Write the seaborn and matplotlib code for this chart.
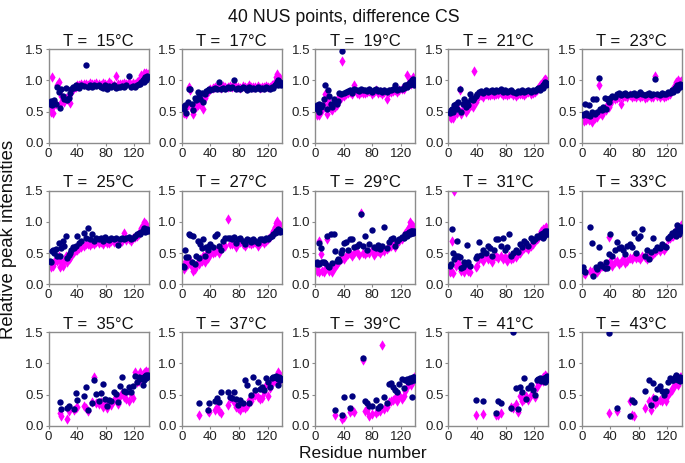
import numpy as np
import pandas as pd
import matplotlib
matplotlib.use("Agg")
import matplotlib.pyplot as plt
import seaborn as sns

nan = np.nan

residues = [2, 3, 5, 6, 8, 10, 12, 14, 16, 18,
            20, 22, 24, 26, 28, 30, 32, 34, 36, 38,
            40, 43, 46, 49, 52, 55, 58, 61, 64, 67,
            70, 73, 76, 79, 82, 85, 88, 91, 94, 97,
            100, 103, 106, 109, 112, 115, 118, 121, 124, 126,
            128, 130, 132, 133, 134, 135, 136, 137, 138, 139]

temperatures = [15, 17, 19, 21, 23, 25, 27, 29, 31, 33, 35, 37, 39, 41, 43]

# navy circles
blue_15 = [0.62, 0.67, 0.60, 0.66, 0.68, 0.63, 0.90, 0.82, 0.56, 0.86,
           0.75, 0.70, 0.88, 0.68, 0.72, 0.80, 0.86, 0.90, 0.88, 0.92,
           0.90, 0.88, 0.92, 0.91, 1.25, 0.90, 0.92, 0.89, 0.93, 0.91,
           0.92, 0.90, 0.88, 0.93, 0.87, 0.91, 0.90, 0.92, 0.88, 0.90,
           0.89, 0.91, 0.90, 0.92, 1.07, 0.90, 0.91, 0.89, 0.92, 0.94,
           0.95, 0.97, 1.00, 0.98, 1.02, 1.05, 1.00, 1.04, 1.07, 1.05]
pink_15 = [0.55, 0.50, 1.05, 0.48, 0.60, 0.62, 0.93, 0.97, 0.63, 0.75,
           0.70, 0.66, 0.72, 0.70, 0.75, 0.64, 0.82, 0.86, 0.88, 0.90,
           0.92, 0.93, 0.95, 0.94, 0.95, 0.93, 0.96, 0.95, 0.94, 0.96,
           0.95, 0.93, 0.96, 0.94, 0.92, 0.97, 0.94, 0.93, 1.07, 0.95,
           0.95, 0.94, 0.96, 0.95, 0.97, 0.93, 0.96, 0.95, 0.97, 1.00,
           1.02, 1.08, 1.05, 1.12, 1.03, 1.10, 1.06, 1.12, 1.08, 1.10]

blue_17 = [0.58, 0.55, 0.60, 0.48, 0.65, 0.87, 0.86, 0.62, 0.53, 0.72,
           0.68, 0.82, 0.75, 0.70, 0.80, 0.65, 0.78, 0.83, 0.85, 0.86,
           0.85, 0.86, 0.88, 0.87, 0.97, 0.86, 0.88, 0.87, 0.89, 0.88,
           0.89, 1.00, 0.87, 0.88, 0.86, 0.90, 0.88, 0.85, 0.89, 0.87,
           0.88, 0.87, 0.89, 0.86, 0.88, 0.87, 0.89, 0.88, 0.87, 0.90,
           0.88, 0.92, 0.95, 0.98, 0.93, 1.00, 0.96, 0.98, 0.95, 0.93]
pink_17 = [0.50, 0.48, 0.55, 0.47, 0.60, 0.90, 0.85, 0.55, 0.47, 0.62,
           0.58, 0.60, 0.70, 0.62, 0.65, 0.55, 0.72, 0.78, 0.82, 0.85,
           0.87, 0.88, 0.90, 0.89, 0.90, 0.88, 0.91, 0.89, 0.90, 0.91,
           0.90, 0.92, 0.89, 0.90, 0.88, 0.91, 0.90, 0.88, 0.92, 0.90,
           0.90, 0.89, 0.91, 0.88, 0.90, 0.89, 0.91, 0.90, 0.89, 0.92,
           0.92, 0.98, 1.05, 1.10, 0.96, 1.02, 1.00, 1.04, 0.98, 0.97]

blue_19 = [0.60, 0.55, 0.62, 0.50, 0.58, 0.60, 0.70, 0.93, 0.55, 0.85,
           0.75, 0.62, 0.58, 0.70, 0.65, 0.63, 0.67, 0.80, 0.78, 1.48,
           0.80, 0.82, 0.83, 0.85, 0.80, 0.87, 0.84, 0.83, 0.86, 0.84,
           0.85, 0.83, 0.86, 0.82, 0.84, 0.86, 0.83, 0.85, 0.82, 0.84,
           0.82, 0.85, 0.84, 0.86, 0.93, 0.85, 0.87, 0.86, 0.88, 0.92,
           0.90, 0.95, 0.92, 0.98, 0.95, 1.00, 0.97, 1.02, 0.96, 0.93]
pink_19 = [0.50, 0.45, 0.48, 0.44, 0.55, 0.52, 0.62, 0.78, 0.47, 0.68,
           0.60, 0.55, 0.52, 0.62, 0.58, 0.60, 0.65, 0.75, 0.72, 1.32,
           0.75, 0.78, 0.80, 0.82, 0.78, 0.93, 0.80, 0.79, 0.82, 0.80,
           0.80, 0.81, 0.83, 0.79, 0.81, 0.84, 0.80, 0.82, 0.79, 0.81,
           0.70, 0.81, 0.82, 0.83, 0.84, 0.82, 0.85, 0.86, 0.87, 0.90,
           1.08, 0.93, 0.96, 1.00, 0.95, 1.03, 1.00, 1.05, 0.99, 0.96]

blue_21 = [0.48, 0.52, 0.55, 0.50, 0.60, 0.62, 0.55, 0.65, 0.87, 0.50,
           0.62, 0.70, 0.58, 0.65, 0.60, 0.78, 0.70, 0.68, 0.72, 0.75,
           0.78, 0.82, 0.83, 0.80, 0.84, 0.82, 0.83, 0.85, 0.82, 0.84,
           0.83, 0.86, 0.82, 0.84, 0.81, 0.83, 0.85, 0.82, 0.80, 0.83,
           0.82, 0.84, 0.81, 0.83, 0.85, 0.82, 0.84, 0.83, 0.86, 0.88,
           0.85, 0.90, 0.92, 0.88, 0.95, 0.97, 0.93, 0.96, 0.95, 0.94]
pink_21 = [0.42, 0.40, 0.43, 0.40, 0.45, 0.50, 0.48, 0.55, 0.85, 0.46,
           0.55, 0.60, 0.50, 0.57, 0.55, 0.62, 0.60, 0.58, 1.15, 0.65,
           0.72, 0.75, 0.76, 0.74, 0.78, 0.76, 0.77, 0.79, 0.76, 0.78,
           0.78, 0.80, 0.77, 0.79, 0.76, 0.78, 0.80, 0.77, 0.75, 0.78,
           0.78, 0.79, 0.77, 0.80, 0.81, 0.79, 0.80, 0.82, 0.84, 0.88,
           0.92, 0.95, 0.98, 0.96, 1.00, 1.02, 0.98, 1.00, 0.97, 0.96]

blue_23 = [0.45, 0.47, 0.62, 0.48, 0.45, 0.60, 0.43, 0.50, 0.70, 0.46,
           0.70, 0.50, 1.04, 0.55, 0.52, 0.58, 0.72, 0.55, 0.70, 0.65,
           0.72, 0.75, 0.74, 0.78, 0.80, 0.76, 0.78, 0.80, 0.77, 0.79,
           0.78, 0.80, 0.77, 0.79, 0.81, 0.78, 0.76, 0.79, 0.80, 0.77,
           0.78, 1.02, 0.79, 0.77, 0.80, 0.78, 0.79, 0.81, 0.80, 0.85,
           0.82, 0.88, 0.90, 0.85, 0.92, 0.88, 0.93, 0.90, 0.95, 0.92]
pink_23 = [0.38, 0.35, 0.40, 0.36, 0.42, 0.37, 0.38, 0.34, 0.45, 0.40,
           0.45, 0.42, 0.93, 0.48, 0.45, 0.50, 0.55, 0.52, 0.60, 0.58,
           0.62, 0.68, 0.70, 0.72, 0.73, 0.63, 0.74, 0.75, 0.73, 0.76,
           0.74, 0.75, 0.73, 0.76, 0.74, 0.75, 0.72, 0.74, 0.76, 0.73,
           0.74, 1.07, 0.75, 0.73, 0.76, 0.74, 0.75, 0.77, 0.78, 0.85,
           0.85, 0.92, 0.97, 0.90, 0.95, 1.00, 0.93, 0.98, 0.96, 0.99]

blue_25 = [0.38, 0.36, 0.53, 0.55, 0.50, 0.56, 0.45, 0.66, 0.46, 0.58,
           0.69, 0.62, 0.78, 0.42, 0.47, 0.50, 0.55, 0.60, 0.58, 0.62,
           0.77, 0.66, 0.70, 0.83, 0.75, 0.91, 0.72, 0.80, 0.70, 0.75,
           0.72, 0.74, 0.70, 0.76, 0.73, 0.71, 0.75, 0.72, 0.74, 0.63,
           0.73, 0.75, 0.72, 0.74, 0.76, 0.73, 0.75, 0.78, 0.80, 0.82,
           0.80, 0.84, 0.86, 0.90, 0.88, 0.84, 0.87, 0.85, 0.88, 0.86]
pink_25 = [0.32, 0.28, 0.33, 0.30, 0.35, 0.40, 0.38, 0.45, 0.28, 0.35,
           0.30, 0.38, 0.45, 0.35, 0.40, 0.42, 0.48, 0.50, 0.52, 0.55,
           0.55, 0.58, 0.60, 0.62, 0.64, 0.65, 0.63, 0.66, 0.64, 0.68,
           0.66, 0.68, 0.65, 0.69, 0.67, 0.66, 0.70, 0.68, 0.69, 0.67,
           0.68, 0.70, 0.82, 0.71, 0.72, 0.70, 0.74, 0.76, 0.78, 0.80,
           0.85, 0.90, 0.95, 1.00, 0.92, 0.97, 0.93, 0.96, 0.90, 0.88]

blue_27 = [0.30, 0.28, 0.55, 0.44, 0.43, 0.80, 0.79, 0.35, 0.78, 0.33,
           0.45, 0.70, 0.42, 0.65, 0.58, 0.72, 0.45, 0.60, 0.55, 0.62,
           0.65, 0.60, 0.78, 0.80, 0.62, 0.55, 0.70, 0.74, 0.75, 0.74,
           0.73, 0.76, 0.66, 0.72, 0.75, 0.70, 0.64, 0.73, 0.71, 0.68,
           0.72, 0.70, 0.66, 0.73, 0.72, 0.71, 0.74, 0.72, 0.76, 0.78,
           0.80, 0.82, 0.86, 0.84, 0.88, 0.85, 0.87, 0.84, 0.86, 0.85]
pink_27 = [0.27, 0.25, 0.35, 0.30, 0.32, 0.40, 0.38, 0.28, 0.22, 0.25,
           0.30, 0.35, 0.33, 0.40, 0.38, 0.45, 0.35, 0.48, 0.42, 0.47,
           0.48, 0.50, 0.52, 0.55, 0.50, 0.58, 0.60, 0.62, 1.05, 0.65,
           0.64, 0.67, 0.60, 0.66, 0.68, 0.65, 0.62, 0.67, 0.66, 0.64,
           0.66, 0.68, 0.62, 0.67, 0.69, 0.66, 0.70, 0.72, 0.76, 0.80,
           0.85, 0.92, 0.98, 1.02, 0.95, 0.97, 0.93, 0.95, 0.90, 0.88]

blue_29 = [0.33, 0.35, 0.32, 0.67, 0.59, 0.35, 0.36, 0.34, 0.78, 0.30,
           0.27, 0.80, 0.34, 0.81, 0.53, 0.37, 0.40, 0.38, 0.50, 0.55,
           0.67, 0.68, 0.55, 0.72, 0.73, 0.60, 0.61, 0.65, 1.12, 0.62,
           0.77, 0.55, 0.65, 0.87, 0.60, 0.58, 0.63, 0.56, 0.62, 0.92,
           0.58, 0.68, 0.72, 0.75, 0.62, 0.70, 0.72, 0.76, 0.74, 0.80,
           0.78, 0.82, 0.84, 0.80, 0.86, 0.83, 0.85, 0.82, 0.86, 0.84]
pink_29 = [0.22, 0.25, 0.20, 0.70, 0.48, 0.22, 0.20, 0.25, 0.72, 0.28,
           0.22, 0.25, 0.20, 0.30, 0.28, 0.32, 0.35, 0.38, 0.40, 0.42,
           0.40, 0.45, 0.48, 0.50, 0.45, 0.50, 0.52, 0.47, 1.15, 0.50,
           0.48, 0.52, 0.50, 0.55, 0.47, 0.52, 0.54, 0.50, 0.55, 0.53,
           0.56, 0.60, 0.62, 0.65, 0.60, 0.68, 0.70, 0.73, 0.78, 0.82,
           0.85, 0.88, 0.92, 1.00, 0.90, 0.95, 0.88, 0.93, 0.90, 0.86]

blue_31 = [0.30, 0.32, 0.88, 0.50, 0.40, 0.45, 0.70, 0.45, 0.43, 0.26,
           0.27, 0.35, 0.32, 0.63, 0.35, 0.30, nan, nan, nan, 0.42,
           0.45, 0.68, 0.47, 0.55, 0.50, 0.62, 0.58, 0.45, 0.55, 0.72,
           0.73, 0.62, 0.75, 0.55, 0.60, 0.80, 0.45, 0.50, 0.55, 0.52,
           0.65, 0.60, 0.70, 0.67, 0.62, 0.75, 0.70, 0.72, 0.78, 0.76,
           0.78, 0.80, 0.75, 0.82, 0.78, 0.85, 0.80, 0.83, 0.86, 0.80]
pink_31 = [0.20, 0.22, 0.70, 0.18, 1.50, 0.30, 0.38, 0.35, 0.30, 0.22,
           0.25, 0.20, 0.27, 0.30, 0.22, 0.20, nan, nan, nan, 0.27,
           0.30, 0.40, 0.42, 0.38, 0.45, 0.40, 0.42, 0.36, 0.44, 0.46,
           0.42, 0.45, 0.40, 0.44, 0.38, 0.46, 0.40, 0.42, 0.44, 0.48,
           0.50, 0.55, 0.58, 0.60, 0.56, 0.62, 0.65, 0.70, 0.72, 0.75,
           0.80, 0.85, 0.82, 0.88, 0.84, 0.90, 0.86, 0.92, 0.88, 0.85]

blue_33 = [0.27, 0.22, 0.20, nan, nan, nan, 0.92, 0.67, 0.14, nan,
           0.28, 0.25, 0.60, 0.33, 0.30, nan, 0.26, 0.35, 0.26, 0.48,
           0.80, 0.45, 0.55, 0.68, 0.58, 0.60, 0.55, 0.48, 0.62, 0.64,
           0.60, 0.82, 0.50, 0.75, 0.78, 0.88, 0.45, 0.55, 0.40, 0.52,
           0.75, 0.55, 0.60, 0.58, 0.65, 0.62, 0.60, 0.75, 0.78, 0.82,
           0.80, 0.85, 0.78, 0.95, 0.82, 0.88, 0.80, 0.85, 0.88, 0.92]
pink_33 = [0.20, 0.18, 0.17, nan, nan, nan, 0.22, 0.20, 0.18, nan,
           0.22, 0.20, 0.25, 0.28, 0.30, nan, 0.27, 0.30, 0.32, 0.76,
           0.38, 0.30, 0.35, 0.37, 0.33, 0.36, 0.40, 0.34, 0.38, 0.42,
           0.40, 0.45, 0.42, 0.44, 0.40, 0.46, 0.43, 0.41, 0.48, 0.45,
           0.48, 0.52, 0.55, 0.53, 0.58, 0.55, 0.60, 0.72, 0.75, 0.78,
           0.78, 0.82, 0.85, 0.90, 0.80, 0.92, 0.85, 0.88, 0.83, 0.95]

blue_35 = [nan, nan, nan, nan, nan, nan, nan, nan, 0.38, 0.27,
           nan, nan, nan, 0.29, 0.32, nan, nan, nan, 0.27, 0.52,
           0.42, nan, nan, 0.48, 0.62, 0.26, nan, 0.36, 0.73, 0.51,
           0.40, 0.53, 0.67, 0.43, 0.32, 0.41, 0.40, 0.54, 0.51, 0.38,
           0.64, 0.79, 0.56, 0.54, 0.62, 0.55, 0.64, 0.80, 0.71, 0.78,
           0.75, 0.76, 0.65, 0.78, 0.74, 0.80, 0.77, 0.82, 0.79, 0.81]
pink_35 = [nan, nan, nan, nan, nan, nan, nan, nan, 0.20, 0.15,
           nan, nan, nan, 0.11, 0.24, nan, nan, nan, 0.25, 0.28,
           0.30, nan, nan, 0.32, 0.28, 0.24, nan, 0.38, 0.79, 0.36,
           0.35, 0.38, 0.30, 0.35, 0.28, 0.36, 0.33, 0.42, 0.46, 0.35,
           0.48, 0.52, 0.46, 0.43, 0.40, 0.51, 0.45, 0.86, 0.70, 0.72,
           0.86, 0.82, 0.80, 0.85, 0.84, 0.86, 0.82, 0.88, 0.84, 0.86]

blue_37 = [nan, nan, nan, nan, nan, nan, nan, nan, nan, nan,
           nan, nan, 0.36, nan, nan, nan, nan, nan, 0.26, 0.36,
           nan, nan, 0.39, 0.45, 0.38, 0.54, nan, nan, 0.54, 0.46,
           0.45, 0.55, 0.43, 0.34, 0.42, 0.36, 0.73, 0.66, 0.37, 0.50,
           0.79, 0.58, 0.71, 0.59, 0.62, 0.58, 0.76, 0.70, 0.62, 0.77,
           0.79, 0.78, 0.80, 0.76, 0.66, 0.75, 0.78, 0.74, 0.77, 0.75]
pink_37 = [nan, nan, nan, nan, nan, nan, nan, nan, nan, nan,
           nan, nan, 0.18, nan, nan, nan, nan, nan, 0.24, 0.22,
           nan, nan, 0.26, 0.30, 0.24, 0.21, nan, nan, 0.34, 0.45,
           0.43, 0.38, 0.30, 0.28, 0.26, 0.30, 0.29, 0.32, 0.42, 0.40,
           0.48, 0.50, 0.46, 0.43, 0.45, 0.55, 0.66, 0.48, 0.60, 0.72,
           0.71, 0.74, 0.79, 0.72, 0.87, 0.80, 0.76, 0.82, 0.74, 0.78]

blue_39 = [nan, nan, nan, nan, nan, nan, nan, nan, nan, nan,
           nan, nan, nan, nan, 0.26, nan, nan, nan, nan, 0.18,
           0.46, nan, nan, 0.28, 0.48, nan, nan, nan, nan, 1.08,
           0.40, 0.36, 0.31, 0.32, nan, 0.42, 0.28, 0.31, nan, 0.47,
           0.36, 0.67, 0.68, 0.62, 0.57, 0.54, 0.67, 0.75, 0.60, 0.73,
           0.75, 0.70, 0.73, 0.77, 0.72, 0.47, 0.76, 0.78, 0.74, 0.78]
pink_39 = [nan, nan, nan, nan, nan, nan, nan, nan, nan, nan,
           nan, nan, nan, nan, 0.18, nan, nan, nan, nan, 0.11,
           0.14, nan, nan, 0.22, 0.25, 0.22, nan, nan, nan, 1.05,
           0.23, 0.25, 0.16, 0.19, nan, 0.21, 0.24, 0.24, 1.30, 0.27,
           0.30, 0.38, 0.40, 0.41, 0.45, 0.39, 0.50, 0.43, 0.48, 0.56,
           0.62, 0.68, 0.70, 0.72, 0.66, 0.70, 0.73, 0.75, 0.74, 0.78]

blue_41 = [nan, nan, nan, nan, nan, nan, nan, nan, nan, nan,
           nan, nan, nan, nan, nan, nan, nan, nan, nan, 0.41,
           nan, nan, nan, 0.39, nan, nan, nan, nan, nan, 0.20,
           0.40, 0.37, nan, nan, nan, nan, 0.28, 1.50, 0.60, 0.27,
           0.62, 0.55, 0.77, 0.43, 0.60, 0.65, 0.58, 0.50, 0.73, 0.75,
           0.76, 0.72, 0.74, 0.73, 0.77, 0.70, 0.78, 0.74, 0.80, 0.79]
pink_41 = [nan, nan, nan, nan, nan, nan, nan, nan, nan, nan,
           nan, nan, nan, nan, nan, nan, nan, nan, nan, 0.18,
           nan, nan, nan, 0.19, nan, nan, nan, nan, nan, 0.18,
           0.17, 0.20, nan, nan, nan, nan, 0.30, 0.29, 0.35, 0.22,
           0.48, 0.40, 0.43, 0.48, 0.42, 0.50, 0.55, 0.47, 0.63, 0.68,
           0.70, 0.74, 0.72, 0.78, 0.75, 0.82, 0.76, 0.80, 0.78, 0.77]

blue_43 = [nan, nan, nan, nan, nan, nan, nan, nan, nan, nan,
           nan, nan, nan, nan, nan, nan, nan, nan, nan, 1.49,
           nan, nan, nan, 0.29, nan, nan, nan, nan, nan, 0.16,
           0.41, 0.38, nan, nan, nan, nan, 0.56, nan, 0.73, 0.34,
           0.68, 0.45, 0.59, 0.64, 0.56, 0.50, 0.56, 0.71, 0.76, 0.74,
           0.74, 0.78, 0.81, 0.75, 0.77, 0.74, 0.76, 0.72, 0.78, 0.76]
pink_43 = [nan, nan, nan, nan, nan, nan, nan, nan, nan, nan,
           nan, nan, nan, nan, nan, nan, nan, nan, nan, 0.21,
           nan, nan, nan, 0.24, nan, nan, nan, nan, nan, 0.39,
           0.17, 0.15, nan, nan, nan, nan, 0.29, nan, 0.40, 0.26,
           0.45, 0.35, 0.38, 0.42, 0.40, 0.45, 0.39, 0.50, 0.55, 0.58,
           0.62, 0.66, 0.70, 0.68, 0.72, 0.66, 0.74, 0.76, 0.78, 0.79]

blue_series = [blue_15, blue_17, blue_19, blue_21, blue_23,
               blue_25, blue_27, blue_29, blue_31, blue_33,
               blue_35, blue_37, blue_39, blue_41, blue_43]
pink_series = [pink_15, pink_17, pink_19, pink_21, pink_23,
               pink_25, pink_27, pink_29, pink_31, pink_33,
               pink_35, pink_37, pink_39, pink_41, pink_43]

x_ticks = [0, 40, 80, 120]
y_ticks = [0.0, 0.5, 1.0, 1.5]
y_tick_labels = ["0.0", "0.5", "1.0", "1.5"]

sns.set_theme(style="white")
plt.rcParams["font.family"] = ["Liberation Sans", "DejaVu Sans"]

W, H = 685, 463
fig = plt.figure(figsize=(W / 100, H / 100), dpi=100)

NAVY = "#000080"
MAGENTA = "#ff00ff"
SPINE = "#8c8c8c"

ax_w = 100
ax_h = 93.5
for i, T in enumerate(temperatures):
    row, col = divmod(i, 5)
    left_px = 48.5 + col * 133.3
    top_px = 49.3 + row * 141.5
    ax = fig.add_axes([left_px / W, 1 - (top_px + ax_h) / H, ax_w / W, ax_h / H])
    df = pd.DataFrame({"res": residues, "blue": blue_series[i], "pink": pink_series[i]})
    sns.scatterplot(data=df, x="res", y="pink", ax=ax, color=MAGENTA, marker="d",
                    s=28, linewidth=0, clip_on=True, zorder=2)
    sns.scatterplot(data=df, x="res", y="blue", ax=ax, color=NAVY, marker="o",
                    s=21, linewidth=0, clip_on=True, zorder=3)
    ax.set_xlim(0, 140)
    ax.set_ylim(0, 1.5)
    ax.set_xticks(x_ticks)
    ax.set_yticks(y_ticks)
    ax.set_yticklabels(y_tick_labels)
    ax.set_xlabel("")
    ax.set_ylabel("")
    ax.set_title(f"T =  {T}\u00b0C", fontsize=12, pad=2.5, color="#111111")
    ax.tick_params(axis="both", labelsize=9.5, length=2, width=0.8, color=SPINE,
                   pad=1.5, labelcolor="#222222", direction="out",
                   bottom=True, left=True)
    for sp in ax.spines.values():
        sp.set_color(SPINE)
        sp.set_linewidth(1.0)
        sp.set_visible(True)

fig.text(344 / W, 1 - 18 / H, "40 NUS points, difference CS", ha="center", va="center",
         fontsize=12.8, color="#111111")
fig.text(363 / W, 1 - 454 / H, "Residue number", ha="center", va="center",
         fontsize=12.5, color="#111111")
fig.text(9 / W, 1 - 239 / H, "Relative peak intensities", ha="center", va="center",
         rotation=90, fontsize=13.3, color="#111111")

fig.savefig("out.png", dpi=100, facecolor="white")
